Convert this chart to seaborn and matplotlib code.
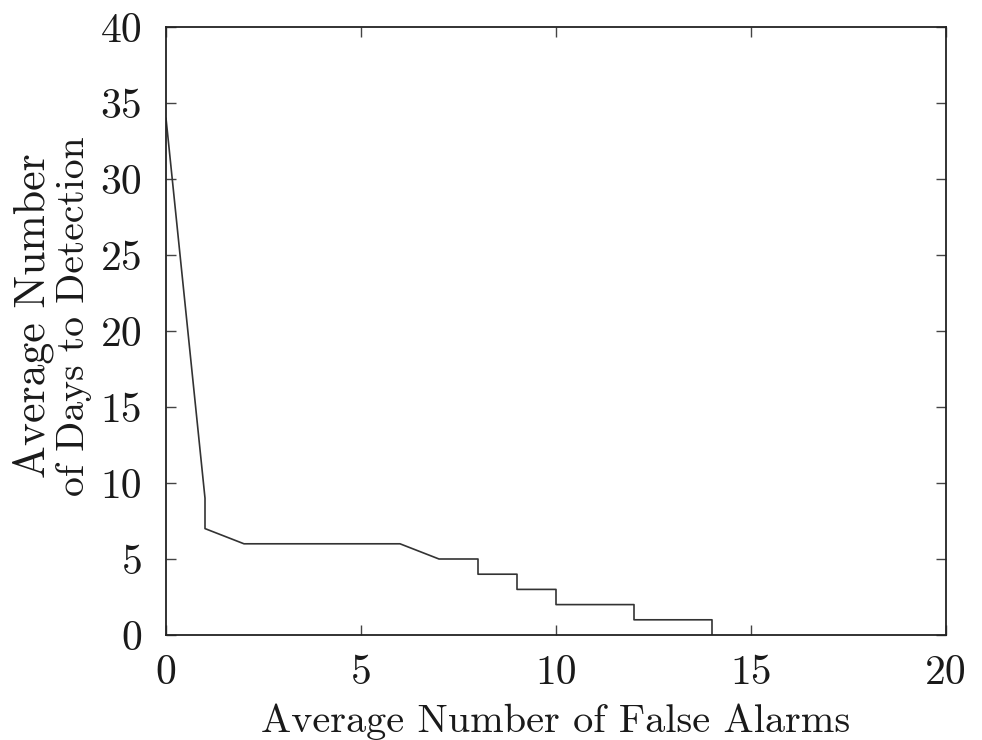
import matplotlib
matplotlib.use("Agg")
import matplotlib.pyplot as plt
import seaborn as sns
import pandas as pd

# Data
false_alarms = [0, 1, 1, 2, 6, 7, 8, 8, 9, 9, 10, 10, 12, 12, 14, 14]
days_to_detection = [34, 9, 7, 6, 6, 5, 5, 4, 4, 3, 3, 2, 2, 1, 1, 0]
x_ticks = [0, 5, 10, 15, 20]
y_ticks = [0, 5, 10, 15, 20, 25, 30, 35, 40]
x_label = "Average Number of False Alarms"
y_label_lines = ["Average Number", "of Days to Detection"]

sns.set_theme(style="white")
plt.rcParams["font.family"] = ["cmr10", "DejaVu Serif"]
plt.rcParams["axes.formatter.use_mathtext"] = True
plt.rcParams["mathtext.fontset"] = "cm"

df = pd.DataFrame({"x": false_alarms, "y": days_to_detection})

W, H = 982, 740
fig = plt.figure(figsize=(W / 100, H / 100), dpi=100)
ax = fig.add_axes([166 / W, 1 - 635 / H, (946 - 166) / W, (635 - 27) / H])

sns.lineplot(data=df, x="x", y="y", sort=False, estimator=None,
             color="#333333", linewidth=1.2, ax=ax)

ax.set_xlim(0, 20)
ax.set_ylim(0, 40)
ax.set_xticks(x_ticks)
ax.set_yticks(y_ticks)
ax.set_xticklabels([str(t) for t in x_ticks])
ax.set_yticklabels([str(t) for t in y_ticks])

ax.tick_params(axis="both", which="major", direction="in", length=7, width=1.0,
               color="#444444", labelsize=30, top=True, right=True,
               bottom=True, left=True, labelcolor="#1a1a1a")
ax.tick_params(axis="x", pad=14)
ax.tick_params(axis="y", pad=17)
for s in ax.spines.values():
    s.set_visible(True)
    s.set_color("#222222")
    s.set_linewidth(1.3)

ax.set_xlabel(x_label, fontsize=29, labelpad=8, color="#1a1a1a")
ax.set_ylabel("")

# two-line y label, positioned in figure pixels (baseline anchored)
for text, xb, size in [(y_label_lines[0], 45, 31.5), (y_label_lines[1], 84, 28.5)]:
    fig.text(xb / W, 1 - 316 / H, text, rotation=90, rotation_mode="anchor",
             ha="center", va="baseline", fontsize=size, color="#1a1a1a")

fig.savefig("out.png", dpi=100, facecolor="white")
